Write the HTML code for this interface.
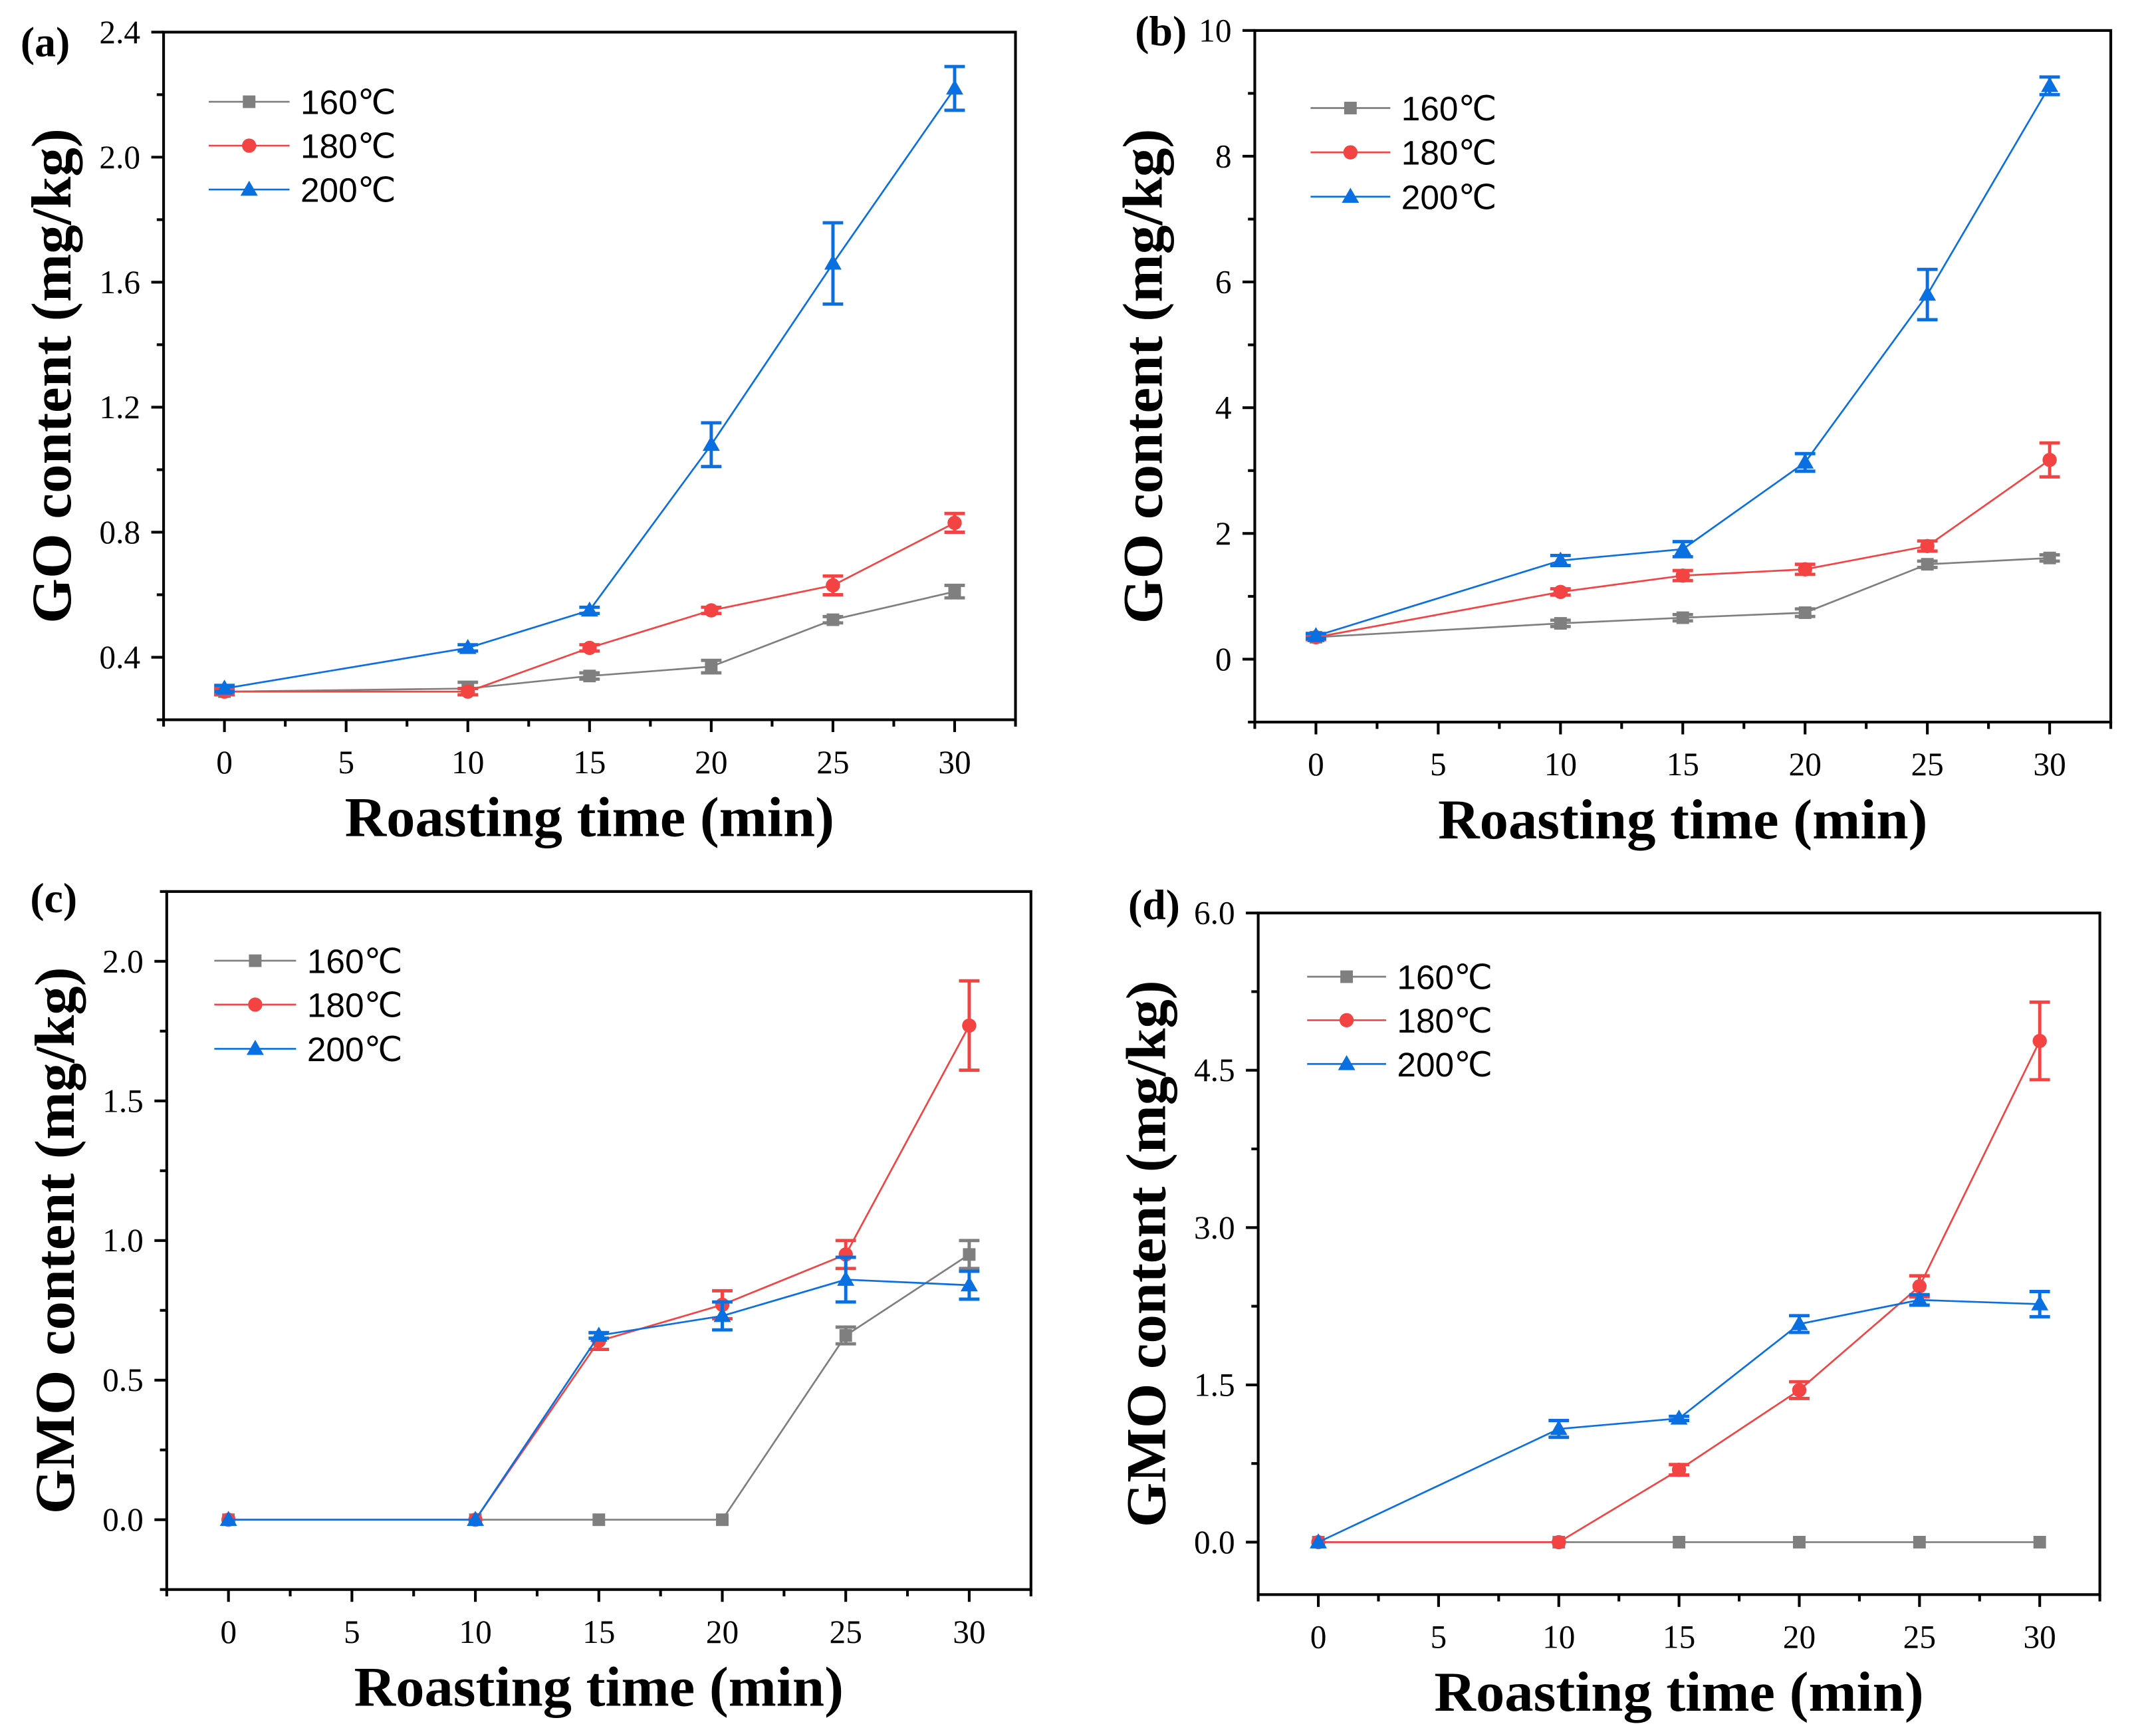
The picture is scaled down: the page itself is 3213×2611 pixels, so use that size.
<!DOCTYPE html>
<html><head><meta charset="utf-8"><style>html,body{margin:0;padding:0;background:#fff}svg{display:block}</style></head>
<body>
<svg id="fig" xmlns="http://www.w3.org/2000/svg" width="3213" height="2611" viewBox="0 0 1562 1269.4"></svg>
<script>
const times = [0, 10, 15, 20, 25, 30];
const seriesNames = ['160℃', '180℃', '200℃'];
// Panel (a) GO
const a160 = [0.29, 0.30, 0.34, 0.37, 0.52, 0.61];
const a160e = [0.01, 0.02, 0.01, 0.02, 0.01, 0.02];
const a180 = [0.29, 0.29, 0.43, 0.55, 0.63, 0.83];
const a180e = [0.01, 0.01, 0.01, 0.01, 0.03, 0.03];
const a200 = [0.30, 0.43, 0.55, 1.08, 1.66, 2.22];
const a200e = [0.01, 0.01, 0.01, 0.07, 0.13, 0.07];
const aTicks = ['0.4', '0.8', '1.2', '1.6', '2.0', '2.4'];
// Panel (b) GO
const b160 = [0.35, 0.57, 0.66, 0.74, 1.51, 1.61];
const b160e = [0.03, 0.05, 0.05, 0.06, 0.05, 0.05];
const b180 = [0.35, 1.07, 1.33, 1.43, 1.80, 3.17];
const b180e = [0.04, 0.05, 0.08, 0.08, 0.08, 0.27];
const b200 = [0.37, 1.57, 1.75, 3.13, 5.80, 9.12];
const b200e = [0.04, 0.08, 0.12, 0.14, 0.40, 0.14];
const bTicks = ['0', '2', '4', '6', '8', '10'];
// Panel (c) GMO
const c160 = [0, 0, 0, 0, 0.66, 0.95];
const c160e = [0, 0, 0, 0, 0.03, 0.05];
const c180 = [0, 0, 0.64, 0.77, 0.95, 1.77];
const c180e = [0, 0, 0.03, 0.05, 0.05, 0.16];
const c200 = [0, 0, 0.66, 0.73, 0.86, 0.84];
const c200e = [0, 0, 0.01, 0.05, 0.08, 0.05];
const cTicks = ['0.0', '0.5', '1.0', '1.5', '2.0'];
// Panel (d) GMO
const d160 = [0, 0, 0, 0, 0, 0];
const d160e = [0, 0, 0, 0, 0, 0];
const d180 = [0, 0, 0.69, 1.45, 2.44, 4.78];
const d180e = [0, 0, 0.05, 0.08, 0.10, 0.37];
const d200 = [0, 1.08, 1.18, 2.08, 2.31, 2.27];
const d200e = [0, 0.08, 0.02, 0.08, 0.05, 0.12];
const dTicks = ['0.0', '1.5', '3.0', '4.5', '6.0'];
const xTicks = ['0', '5', '10', '15', '20', '25', '30'];

const NS = 'http://www.w3.org/2000/svg';
const svg = document.getElementById('fig');
const colors = ['#7f7f7f', '#f44343', '#0a6fe0'];
function mk(tag, attrs, parent) {
  const e = document.createElementNS(NS, tag);
  for (const k in attrs) e.setAttribute(k, attrs[k]);
  (parent || svg).appendChild(e);
  return e;
}
const panels = [
  {id:'a', label:'(a)', lab:[15,41], box:[119.6,23.5,742.6,526.3], xr:[-2.5,32.5], yr:[0.2,2.4], ymaj:0.4, ymin:0.2, yt:aTicks, y0:0.4,
   data:[[a160,a160e],[a180,a180e],[a200,a200e]], leg:[152.6,211.7,[74.4,106.5,138.6]], title:'GO content (mg/kg)'},
  {id:'b', label:'(b)', lab:[830,33], box:[917.6,22.3,1543.6,528], xr:[-2.5,32.5], yr:[-1,10], ymaj:2, ymin:1, yt:bTicks, y0:0,
   data:[[b160,b160e],[b180,b180e],[b200,b200e]], leg:[958.4,1016.7,[79,111.4,143.8]], title:'GO content (mg/kg)'},
  {id:'c', label:'(c)', lab:[22,667], box:[121.9,651.9,753.9,1162.3], xr:[-2.5,32.5], yr:[-0.25,2.25], ymaj:0.5, ymin:0.25, yt:cTicks, y0:0,
   data:[[c160,c160e],[c180,c180e],[c200,c200e]], leg:[156.7,216.5,[702.5,734.6,766.9]], title:'GMO content (mg/kg)'},
  {id:'d', label:'(d)', lab:[825,672], box:[920.1,667.6,1535.6,1166], xr:[-2.5,32.5], yr:[-0.5,6.0], ymaj:1.5, ymin:0.75, yt:dTicks, y0:0,
   data:[[d160,d160e],[d180,d180e],[d200,d200e]], leg:[955.9,1013.6,[714.2,746,778]], title:'GMO content (mg/kg)'}
];
function marker(g, k, x, y) {
  let m;
  if (k === 0) m = mk('rect', {x:x-4.6, y:y-4.6, width:9.2, height:9.2, fill:colors[0]}, g);
  else if (k === 1) m = mk('circle', {cx:x, cy:y, r:5.2, fill:colors[1]}, g);
  else m = mk('polygon', {points:`${x},${y-6.5} ${x+6.3},${y+4.5} ${x-6.3},${y+4.5}`, fill:colors[2]}, g);
  
  
}
panels.forEach(p => {
  const [L, T, R, B] = p.box;
  const g = mk('g', {});
  
  
  const X = v => L + (v - p.xr[0]) / (p.xr[1] - p.xr[0]) * (R - L);
  const Y = v => B - (v - p.yr[0]) / (p.yr[1] - p.yr[0]) * (B - T);
  const box = mk('rect', {x:L, y:T, width:R-L, height:B-T, fill:'none', stroke:'#000', 'stroke-width':2}, g);
  
  
  for (let v = p.xr[0]; v <= p.xr[1] + 1e-9; v += 2.5) {
    const major = Math.abs(v / 5 - Math.round(v / 5)) < 1e-6;
    mk('line', {x1:X(v), x2:X(v), y1:B, y2:B + (major ? 9 : 5), stroke:'#000', 'stroke-width':2}, g);
  }
  xTicks.forEach(t => {
    const tx = mk('text', {x:X(+t), y:B + 39, 'text-anchor':'middle', 'font-family':'Liberation Serif, serif', 'font-size':24}, g);
    tx.textContent = t;
    
    
  });
  const start = Math.ceil((p.yr[0] - 1e-9) / p.ymin) * p.ymin;
  for (let v = start; v <= p.yr[1] + 1e-9; v += p.ymin) {
    const major = Math.abs((v - p.y0) / p.ymaj - Math.round((v - p.y0) / p.ymaj)) < 1e-6;
    mk('line', {x1:L - (major ? 9 : 5), x2:L, y1:Y(v), y2:Y(v), stroke:'#000', 'stroke-width':2}, g);
  }
  p.yt.forEach(t => {
    const ty = mk('text', {x:L - 17, y:Y(+t) + 8, 'text-anchor':'end', 'font-family':'Liberation Serif, serif', 'font-size':24}, g);
    ty.textContent = t;
    
    
  });
  const xt = mk('text', {x:(L+R)/2, y:B + 85, 'text-anchor':'middle', 'font-family':'Liberation Serif, serif', 'font-size':41, 'font-weight':'bold', textLength:358, lengthAdjust:'spacingAndGlyphs'}, g);
  xt.textContent = 'Roasting time (min)';
  
  
  const cy = (T + B) / 2, cx = L - 68;
  const yt = mk('text', {x:cx, y:cy, 'text-anchor':'middle', 'font-family':'Liberation Serif, serif', 'font-size':41, 'font-weight':'bold', transform:`rotate(-90 ${cx} ${cy})`, textLength: p.id < 'c' ? 362 : 400, lengthAdjust:'spacingAndGlyphs'}, g);
  yt.textContent = p.title;
  
  
  const pl = mk('text', {x:p.lab[0], y:p.lab[1], 'font-family':'Liberation Serif, serif', 'font-size':31, 'font-weight':'bold'}, g);
  pl.textContent = p.label;
  
  
  p.data.forEach((sd, k) => {
    const [vals, errs] = sd;
    const sg = mk('g', {}, g);
    
    
    const pts = times.map((t, i) => X(t) + ',' + Y(vals[i])).join(' ');
    mk('polyline', {points:pts, fill:'none', stroke:colors[k], 'stroke-width':1.3}, sg);
    times.forEach((t, i) => {
      if (errs[i] > 0) {
        const x = X(t), y1 = Y(vals[i] + errs[i]), y2 = Y(vals[i] - errs[i]);
        const eb = mk('path', {d:`M${x},${y1}V${y2}M${x-7.5},${y1}H${x+7.5}M${x-7.5},${y2}H${x+7.5}`, stroke:colors[k], 'stroke-width':2.4, fill:'none'}, sg);
        
        
      }
      marker(sg, k, X(t), Y(vals[i]));
    });
  });
  const lg = mk('g', {}, g);
  
  
  const [lx1, lx2, ly] = p.leg;
  seriesNames.forEach((n, k) => {
    mk('line', {x1:lx1, x2:lx2, y1:ly[k], y2:ly[k], stroke:colors[k], 'stroke-width':1.3}, lg);
    marker(lg, k, (lx1 + lx2) / 2, ly[k]);
    const t = mk('text', {x:lx2 + 8, y:ly[k] + 9, 'font-family':'Liberation Sans, sans-serif', 'font-size':25}, lg);
    t.textContent = n;
    
    
  });
});
</script>
</body></html>
